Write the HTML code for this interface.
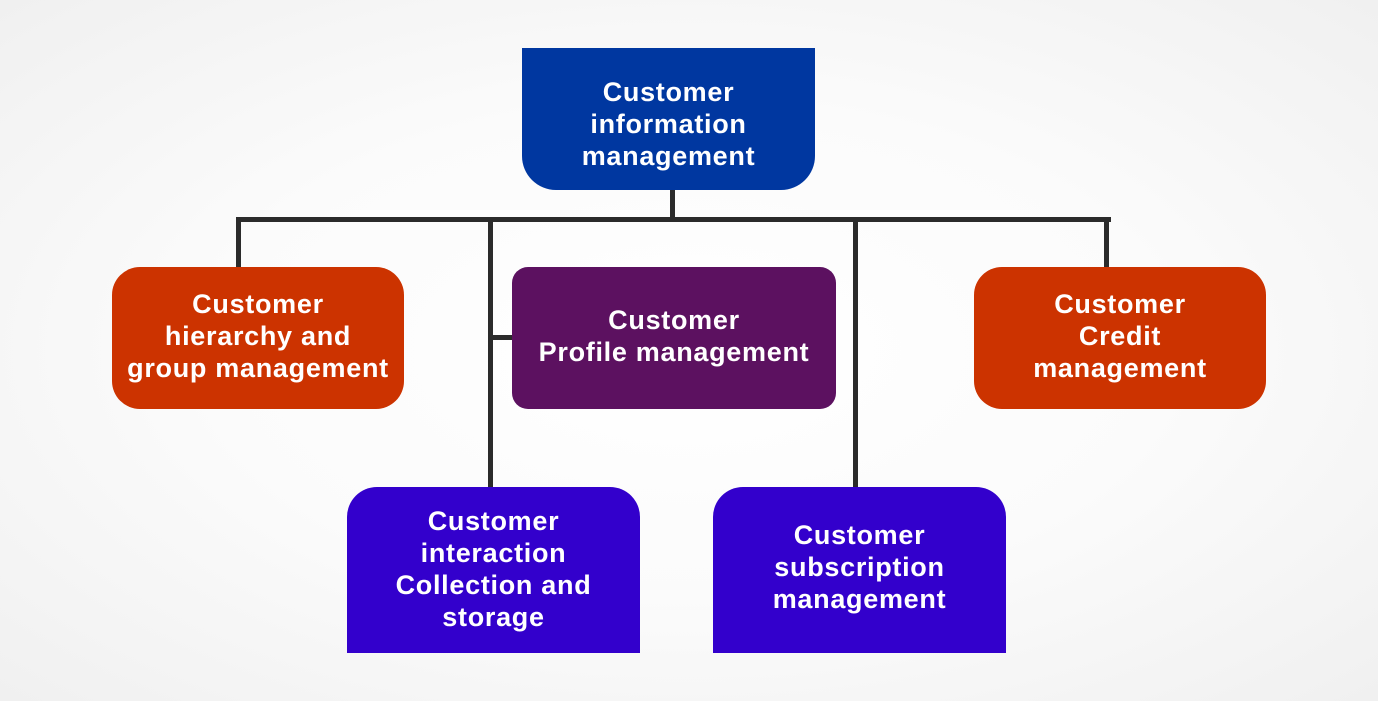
<!DOCTYPE html>
<html><head><style>
html,body{margin:0;padding:0}
body{width:1378px;height:701px;position:relative;overflow:hidden;background:radial-gradient(ellipse at center,#ffffff 0%,#fbfbfb 50%,#f0f0f0 100%);font-family:"Liberation Sans",sans-serif}
.b{position:absolute;display:flex;align-items:center;justify-content:center;text-align:center;color:#fff;font-weight:bold;font-size:27px;letter-spacing:0.7px;line-height:32px;box-sizing:border-box;white-space:nowrap}
.l{position:absolute;background:#2b2b2b}
</style></head><body>
<div class="l" style="left:670px;top:188px;width:5px;height:34px"></div>
<div class="l" style="left:236px;top:217px;width:875px;height:5px"></div>
<div class="l" style="left:236px;top:217px;width:5px;height:52px"></div>
<div class="l" style="left:1104px;top:217px;width:5px;height:52px"></div>
<div class="l" style="left:488px;top:217px;width:5px;height:272px"></div>
<div class="l" style="left:853px;top:217px;width:5px;height:272px"></div>
<div class="l" style="left:488px;top:335px;width:26px;height:5px"></div>

<div class="b" style="left:522px;top:48px;width:293px;height:142px;background:#0037a0;border-radius:0 0 34px 34px;padding-top:10px">Customer<br>information<br>management</div>
<div class="b" style="left:112px;top:267px;width:292px;height:142px;background:#cc3300;border-radius:28px;padding-bottom:4px">Customer<br>hierarchy and<br>group management</div>
<div class="b" style="left:512px;top:267px;width:324px;height:142px;background:#5c1160;border-radius:16px;padding-bottom:4px">Customer<br>Profile management</div>
<div class="b" style="left:974px;top:267px;width:292px;height:142px;background:#cc3300;border-radius:28px;padding-bottom:4px">Customer<br>Credit<br>management</div>
<div class="b" style="left:347px;top:487px;width:293px;height:166px;background:#3300cc;border-radius:30px 30px 0 0;padding-bottom:2px">Customer<br>interaction<br>Collection and<br>storage</div>
<div class="b" style="left:713px;top:487px;width:293px;height:166px;background:#3300cc;border-radius:30px 30px 0 0;padding-bottom:6px">Customer<br>subscription<br>management</div>
</body></html>
